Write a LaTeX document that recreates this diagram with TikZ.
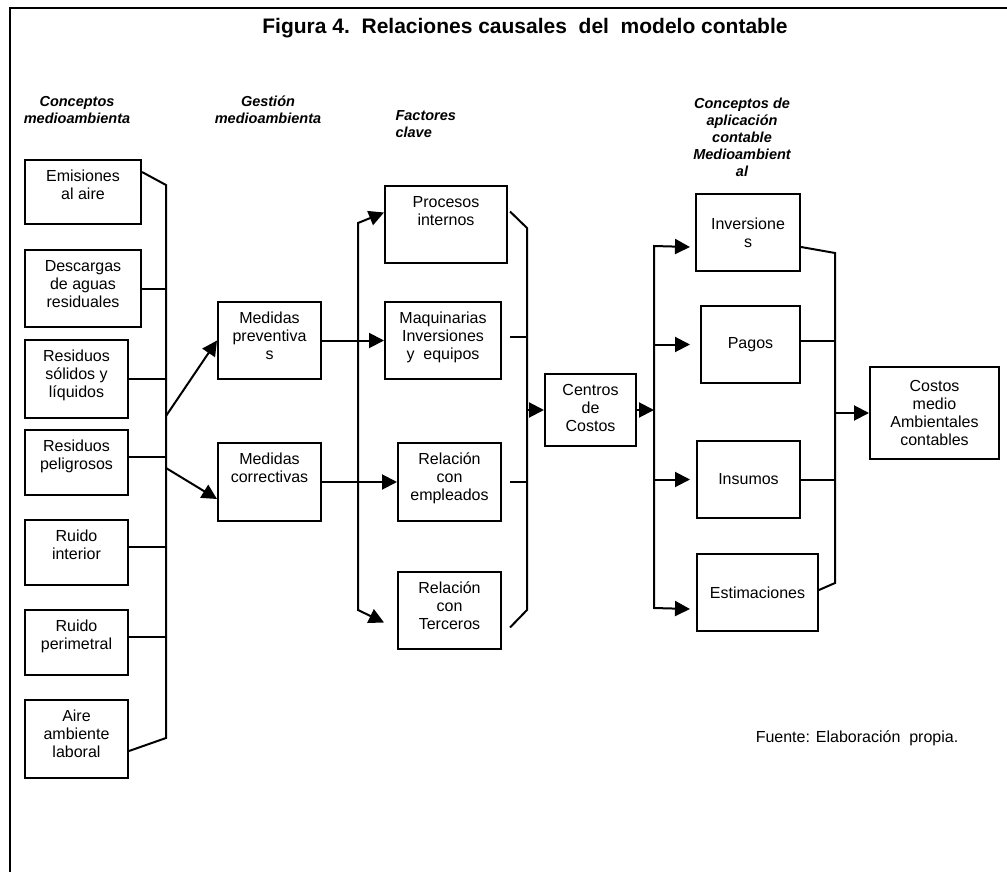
\documentclass[tikz,border=0pt]{standalone}
\usepackage{fontspec}
\setmainfont{Liberation Sans}
\usetikzlibrary{arrows.meta}
\newcommand{\toptxt}[3]{\parbox[c][#2][t]{#1}{\centering\rule{0pt}{21.5pt}#3}}
\newcommand{\midtxt}[3]{\parbox[c][#2][c]{#1}{\centering #3}}

\begin{document}
\begin{tikzpicture}[x=1pt, y=-1pt,
    box/.style={draw, line width=2pt, inner sep=0pt, anchor=north west, font=\fontsize{16}{18}\selectfont},
    line/.style={line width=2pt},
    arr/.style={line width=2pt, -{Triangle[length=15pt,width=15pt]}},
    arrtwo/.style={line width=2pt, {Triangle[length=15pt,width=15pt]}-{Triangle[length=15pt,width=15pt]}},
    head/.style={font=\fontsize{14.5}{17}\selectfont\bfseries\itshape, align=center}]
        \useasboundingbox (0,0) rectangle (1007,872);
        % Frame
        \draw[line] (10,872) -- (10,8) -- (1007,8);

        % Titles
        \node[font=\fontsize{21}{24}\selectfont\bfseries] (title) at (525,28) {Figura 4.\ \ Relaciones causales\ \ del\ \ modelo contable};
        \node[head] (hconc) at (77,110) {Conceptos\\medioambienta};
        \node[head] (hgest) at (268,110) {Gestión\\medioambienta};
        \node[head, align=left, anchor=west] (hfact) at (392,124) {Factores\\clave};
        \node[head] (hapli) at (742,137) {Conceptos de\\aplicación\\contable\\Medioambient\\al};
        \node[font=\fontsize{16}{18}\selectfont] (fuente) at (857,738) {Fuente: Elaboración\ \ propia.};

        % Conceptos medioambienta
        \node[box] (emis) at (24,159) {\toptxt{116pt}{64pt}{Emisiones\\al aire}};
        \node[box] (desc) at (24,249) {\toptxt{116pt}{77pt}{Descargas\\de aguas\\residuales}};
        \node[box] (rsol) at (24,339) {\toptxt{103pt}{78pt}{Residuos\\sólidos y\\líquidos}};
        \node[box] (rpel) at (24,429) {\toptxt{103pt}{65pt}{Residuos\\peligrosos}};
        \node[box] (rint) at (24,519) {\toptxt{103pt}{65pt}{Ruido\\interior}};
        \node[box] (rper) at (24,609) {\toptxt{103pt}{65pt}{Ruido\\perimetral}};
        \node[box] (aire) at (24,699) {\toptxt{103pt}{78pt}{Aire\\ambiente\\laboral}};

        % Gestion medioambienta
        \node[box] (prev) at (217,301) {\toptxt{103pt}{77pt}{Medidas\\preventiva\\s}};
        \node[box] (corr) at (217,442) {\toptxt{103pt}{78pt}{Medidas\\correctivas}};

        % Factores clave
        \node[box] (proc) at (384,185) {\toptxt{122pt}{77pt}{Procesos\\internos}};
        \node[box] (maq) at (384,301) {\toptxt{116pt}{77pt}{Maquinarias\\Inversiones\\y\ \ equipos}};
        \node[box] (empl) at (397,442) {\toptxt{103pt}{78pt}{Relación\\con\\empleados}};
        \node[box] (terc) at (397,571) {\toptxt{103pt}{77pt}{Relación\\con\\Terceros}};
        \node[box] (cen) at (544,373) {\toptxt{91pt}{72pt}{Centros\\de\\Costos}};

        % Conceptos de aplicacion
        \node[box] (inv) at (695,193) {\midtxt{104pt}{77pt}{Inversione\\s}};
        \node[box] (pag) at (700,305) {\midtxt{99pt}{77pt}{Pagos}};
        \node[box] (ins) at (696,440) {\midtxt{103pt}{77pt}{Insumos}};
        \node[box] (est) at (696,553) {\midtxt{121pt}{77pt}{Estimaciones}};
        \node[box] (cos) at (869,366) {\midtxt{129pt}{92pt}{Costos\\medio\\Ambientales\\contables}};

        % Bus points
        \coordinate (lbtop) at (166,185);
        \coordinate (lbbot) at (166,738);
        \coordinate (lbp) at (166,416);
        \coordinate (lbc) at (166,468);
        \coordinate (fltop) at (358,223);
        \coordinate (flbot) at (358,610);
        \coordinate (frtop) at (527,228);
        \coordinate (frbot) at (527,610);
        \coordinate (rltop) at (654,246);
        \coordinate (rlbot) at (654,608);
        \coordinate (rrtop) at (835,253);
        \coordinate (rrbot) at (835,583);

        % Draw connections
        \draw[line] ([yshift=-13pt]emis.north east) -- (lbtop) -- (lbbot) -- ([yshift=-12pt]aire.east);
        \draw[line] (desc.east) -- (desc.east -| lbtop);
        \draw[line] (rsol.east) -- (rsol.east -| lbtop);
        \foreach \n in {rpel,rint,rper}
            \draw[line] ([yshift=6pt]\n.east) coordinate (c) -- (c -| lbtop);
        \draw[arr] (lbp) -- (prev.west);
        \draw[arr] (lbc) -- ([yshift=-17pt]corr.west);
        \draw[arr] (prev.east) -- (maq.west);
        \draw[arr] (corr.east) -- (empl.west);

        \draw[arrtwo] ([yshift=12pt]proc.west) -- (fltop) -- (flbot) -- ([xshift=-13pt,yshift=-12pt]terc.west);
        \draw[line] ([xshift=2pt,yshift=13pt]proc.east) -- (frtop) -- (frbot) -- ([xshift=8pt,yshift=-17pt]terc.east);
        \draw[line] ([xshift=8pt,yshift=3.5pt]maq.east) coordinate (c) -- (c -| frtop);
        \draw[line] ([xshift=8pt]empl.east) coordinate (c) -- (c -| frtop);
        \draw[arr] (cen.west -| frtop) -- (cen.west);
        \draw[arr] (cen.east) -- (cen.east -| rltop);

        \draw[arrtwo] ([xshift=-5pt,yshift=-14.5pt]inv.west) -- (rltop) -- (rlbot) -- ([xshift=-6pt,yshift=-16.5pt]est.west);
        \draw[arr] (pag.west -| rltop) -- ([xshift=-10pt]pag.west);
        \draw[arr] (ins.west -| rltop) -- ([xshift=-6pt]ins.west);

        \draw[line] ([yshift=-14.5pt]inv.east) -- (rrtop) -- (rrbot) -- ([yshift=2.5pt]est.east);
        \draw[line] ([yshift=3.5pt]pag.east) coordinate (c) -- (c -| rrtop);
        \draw[line] (ins.east) -- (ins.east -| rrtop);
        \draw[arr] (cos.west -| rrtop) -- (cos.west);
    \end{tikzpicture}
\end{document}
